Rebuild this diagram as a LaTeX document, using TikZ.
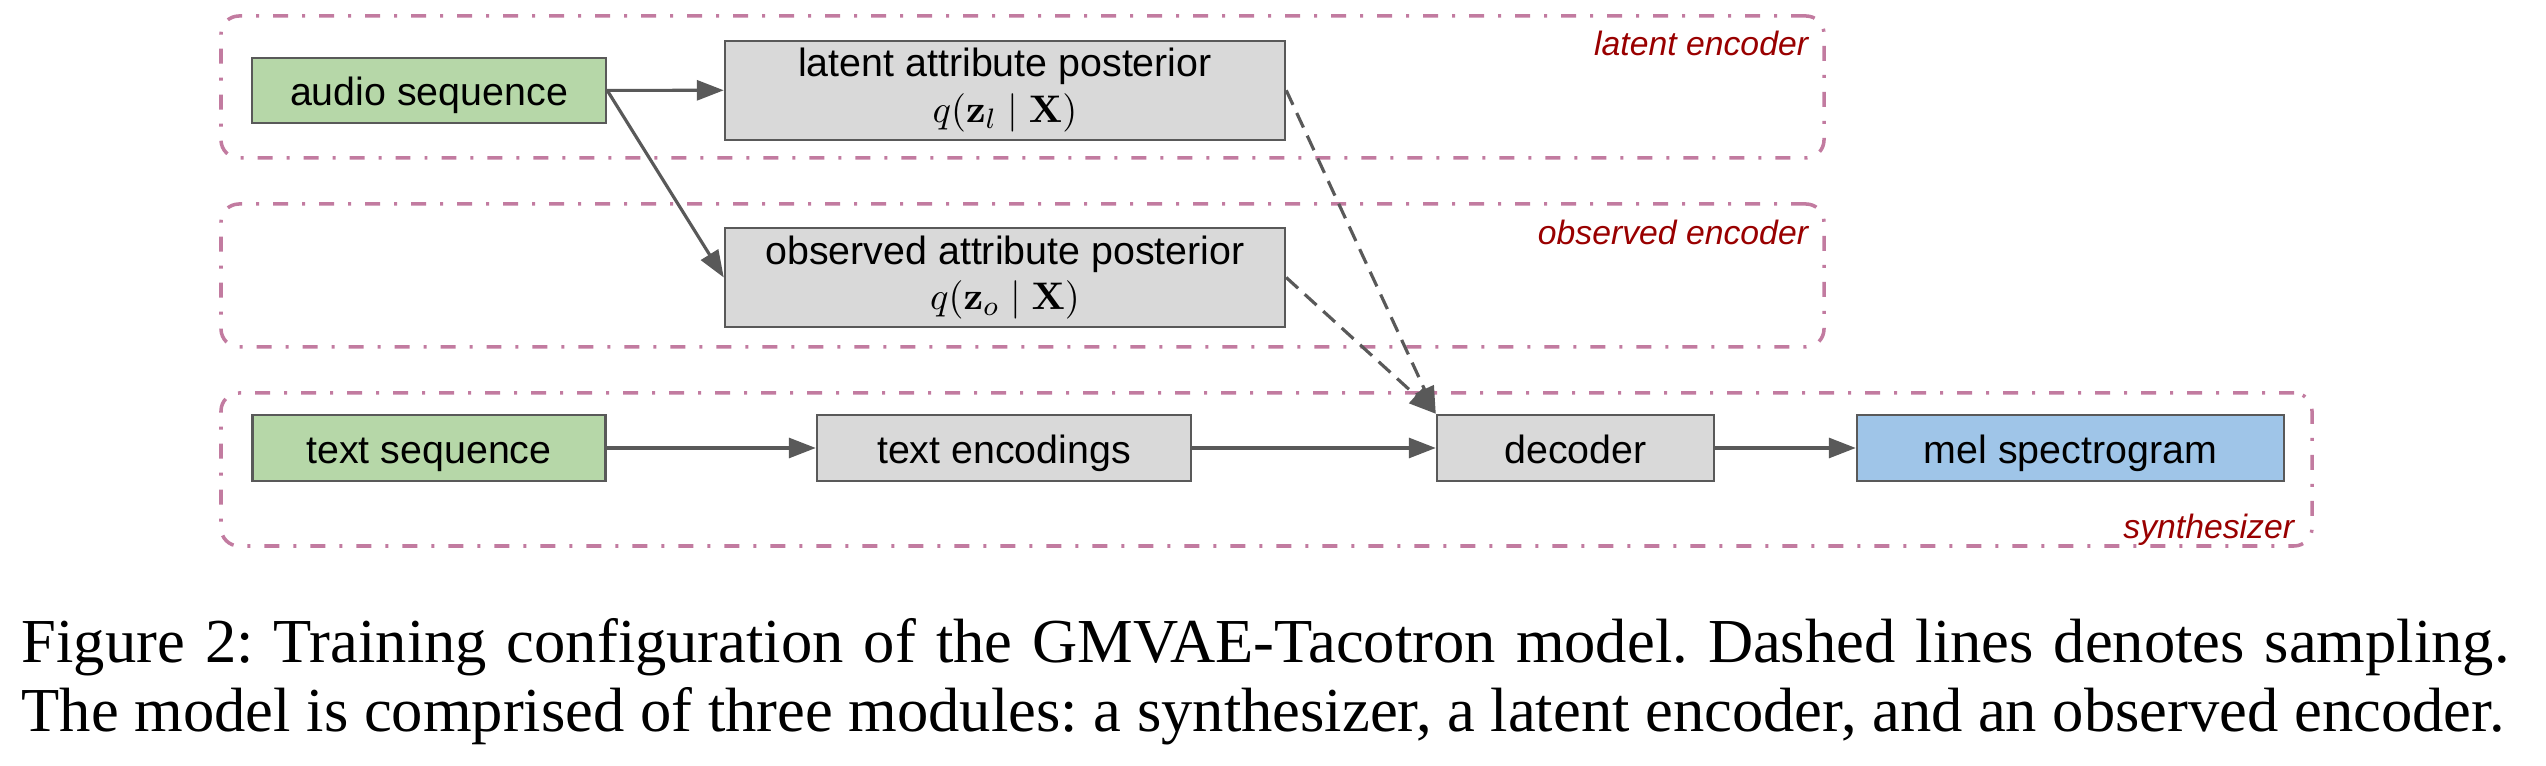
\documentclass[tikz,border=0pt]{standalone}
\usepackage[no-math]{fontspec}
\setmainfont{Liberation Serif}
\setsansfont{Liberation Sans}
\usepackage{amsmath}
\usepackage{tikz}
\usetikzlibrary{arrows.meta,positioning,calc}
\definecolor{boxgreen}{HTML}{B6D7A8}
\definecolor{boxgray}{HTML}{D9D9D9}
\definecolor{boxblue}{HTML}{9FC5E8}
\definecolor{edgegray}{HTML}{595959}
\definecolor{regionpink}{HTML}{C27BA0}
\definecolor{labelred}{HTML}{990000}
\frenchspacing

\begin{document}
\begin{tikzpicture}
\tikzset{every node/.style={font=\sffamily\fontsize{11.2}{13}\selectfont}}
\tikzset{block/.style={draw=edgegray,line width=0.7pt,inner sep=0pt,align=center,minimum height=0.66cm}}
\tikzset{oneline/.style={block,text height=8.6pt,text depth=0pt}}
\tikzset{region/.style={draw=regionpink,line width=1pt,rounded corners=0.18cm,
dash pattern=on 0.15cm off 0.14cm on 0.03cm off 0.14cm,inner sep=0pt}}
\tikzset{regionlabel/.style={text=labelred,font=\sffamily\itshape\fontsize{9.6}{11}\selectfont,inner sep=0pt}}
\tikzset{flow/.style={draw=edgegray,line width=0.9pt,-{Triangle[length=0.27cm,width=0.2cm]}}}
\tikzset{sample/.style={flow,dash pattern=on 0.16cm off 0.09cm}}
\useasboundingbox (0,0) rectangle (25.46,-7.66);
% modules
\node[region,minimum width=16.03cm,minimum height=1.42cm] (latentenc) at (10.225,-0.87) {};
\node[region,minimum width=16.03cm,minimum height=1.43cm] (observedenc) at (10.225,-2.755) {};
\node[region,minimum width=20.91cm,minimum height=1.53cm] (synth) at (12.665,-4.695) {};
\node[regionlabel,anchor=base east] (latentlbl) at ($(latentenc.north east)+(-0.17,-0.41)$) {latent encoder};
\node[regionlabel,anchor=base east] (observedlbl) at ($(observedenc.north east)+(-0.17,-0.42)$) {observed encoder};
\node[regionlabel,anchor=base east] (synthlbl) at ($(synth.south east)+(-0.19,0.09)$) {synthesizer};
% blocks
\node[oneline,fill=boxgreen,minimum width=3.54cm,minimum height=0.65cm] (audio) at (4.29,-0.904) {audio sequence};
\node[block,fill=boxgray,minimum width=5.6cm,minimum height=0.99cm] (latent) at (10.05,-0.903)
{latent attribute posterior\\$q(\mathbf{z}_l \mid \mathbf{X})$};
\node[block,fill=boxgray,minimum width=5.6cm,minimum height=0.99cm] (observed) at (10.05,-2.775)
{observed attribute posterior\\$q(\mathbf{z}_o \mid \mathbf{X})$};
\node[oneline,fill=boxgreen,minimum width=3.53cm] (textseq) at (4.29,-4.48) {text sequence};
\node[oneline,fill=boxgray,minimum width=3.74cm] (textenc) at (10.04,-4.48) {text encodings};
\node[oneline,fill=boxgray,minimum width=2.77cm] (decoder) at (15.755,-4.48) {decoder};
\node[oneline,fill=boxblue,minimum width=4.27cm] (mel) at (20.705,-4.48) {mel spectrogram};
% connectors
\draw[flow] (audio.east) -- (latent.west);
\draw[flow] (audio.east) -- (observed.west);
\draw[flow] (textseq) -- (textenc);
\draw[flow] (textenc) -- (decoder);
\draw[flow] (decoder) -- (mel);
\draw[sample] (latent.east) -- (decoder.north west);
\draw[sample] (observed.east) -- (decoder.north west);
% caption
\node[anchor=base west,inner sep=0pt,text width=24.88cm,align=justify,font=\rmfamily\fontsize{17.8}{19.6}\selectfont] (caption) at (0.21,-6.63)
{Figure 2: Training configuration of the GMVAE-Tacotron model. Dashed lines denotes sampling.\linebreak
The model is comprised of three modules: a synthesizer, a latent encoder, and an observed encoder.};
\end{tikzpicture}
\end{document}
